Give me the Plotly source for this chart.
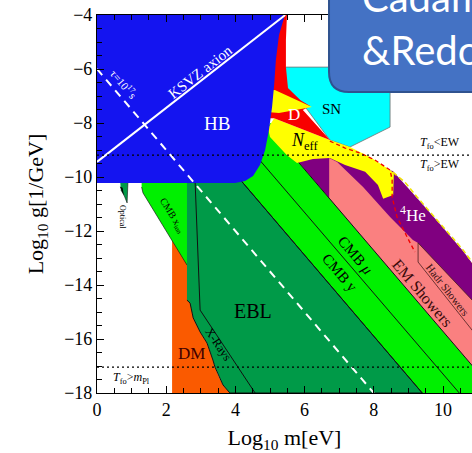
import plotly.graph_objects as go

# ---------------------------------------------------------------- axes
x_range = [0, 10.838]
y_range = [-18, -4]
x_tickvals = [0, 2, 4, 6, 8, 10]
x_ticktext = ["0", "2", "4", "6", "8", "10"]
y_tickvals = [-4, -6, -8, -10, -12, -14, -16, -18]
y_ticktext = ["−4", "−6", "−8", "−10", "−12", "−14", "−16", "−18"]

# ---------------------------------------------------------------- regions
# boundary vertices as (log10 m [eV], log10 g [1/GeV])
hb_m = [0, 5.43, 5.26, 5.17, 5.12, 5.06, 4.97, 4.86, 4.71, 4.51, 4.28, 3.99, 0]
hb_g = [-4, -4, -4.74, -5.67, -6.59, -7.41, -8.26, -9.0, -9.56, -9.96, -10.15, -10.22, -10.22]

red_m = [5.0, 5.49, 5.46, 5.46, 5.52, 5.87, 6.16, 5.95, 6.73, 5.12, 4.86, 4.86]
red_g = [-4, -4, -4.93, -5.93, -6.70, -7.15, -7.37, -7.52, -8.63, -7.82, -7.82, -4]

sn_m = [5.46, 8.47, 8.47, 7.31, 6.73, 5.87, 5.46]
sn_g = [-5.93, -5.93, -8.15, -8.89, -8.63, -7.15, -6.70]

neff_m = [5.12, 6.73, 7.31, 7.89, 8.47, 8.58, 8.56, 8.27, 8.12, 7.75, 7.17, 6.73, 6.24, 5.78, 5.49, 5.0, 4.94]
neff_g = [-7.82, -8.63, -8.89, -9.26, -9.74, -9.85, -10.67, -10.81, -10.30, -9.81, -9.56, -9.30, -9.33, -9.48, -9.19, -8.52, -8.19]

neff_spike_m = [5.0, 5.14, 6.21, 5.26, 5.0]
neff_spike_g = [-6.8, -6.78, -7.41, -7.63, -7.6]

he4_m = [5.80, 6.30, 8.55, 8.76, 9.25, 9.91, 10.58, 10.84, 11.40, 11.40]
he4_g = [-9.42, -9.07, -9.78, -10.07, -10.78, -11.74, -12.74, -13.19, -14.20, -17.82]

em_m = [6.71, 6.94, 7.69, 8.47, 9.13, 9.28, 11.36, 11.36, 6.71]
em_g = [-9.30, -9.44, -10.37, -11.48, -12.33, -12.44, -15.26, -17.76, -10.78]

cmb_m = [4.10, 4.60, 4.90, 5.00, 5.60, 5.80, 11.52, 9.40]
cmb_g = [-10.04, -9.40, -8.30, -8.00, -8.30, -9.42, -18.0, -18.0]

xion_m = [1.29, 2.69, 2.69, 2.60, 1.33, 1.29]
xion_g = [-9.96, -9.96, -13.26, -13.26, -10.59, -10.37]

ebl_m = [2.60, 4.00, 9.40, 3.84, 3.64, 3.50, 3.41, 3.35, 3.18, 2.98, 2.78, 2.69, 2.60]
ebl_g = [-9.90, -9.89, -18.0, -18.0, -17.70, -17.33, -17.04, -16.78, -16.15, -15.74, -15.22, -14.67, -14.56]

dm_m = [2.17, 2.70, 2.70, 2.78, 2.98, 3.18, 3.35, 3.41, 3.50, 3.64, 3.84, 2.17]
dm_g = [-12.0, -12.0, -14.60, -15.22, -15.74, -16.15, -16.78, -17.04, -17.33, -17.70, -18.0, -18.0]

optical_m = [0.66, 0.90, 0.87, 0.78, 0.69]
optical_g = [-10.0, -10.0, -10.96, -10.67, -10.48]
optical_tip_m = [0.66, 0.78, 0.74]
optical_tip_g = [-10.35, -10.70, -10.40]

# ---------------------------------------------------------------- boundary lines
line_a_m, line_a_g = [4.10, 9.40], [-10.04, -18.0]
line_b_m, line_b_g = [4.70, 10.47], [-9.37, -18.0]
line_c_m, line_c_g = [5.80, 11.52], [-9.42, -18.0]
xray_m, xray_g = [2.83, 2.98, 4.57], [-10.0, -14.93, -18.0]
hadr_top_m, hadr_top_g = [9.28, 11.36], [-12.44, -15.26]
hadr_sep_m, hadr_sep_g = [9.28, 9.28, 11.36], [-12.44, -13.15, -16.51]
red_dash_m = [6.73, 7.17, 7.60, 8.03, 8.47, 8.53, 8.53, 8.67, 9.05, 9.19]
red_dash_g = [-8.67, -8.93, -9.11, -9.37, -9.74, -10.11, -10.74, -11.48, -12.44, -12.78]
yel_dash_m = [8.55, 8.90, 9.25, 9.91, 10.58, 10.84, 11.21]
yel_dash_g = [-9.82, -10.19, -10.74, -11.70, -12.70, -13.15, -13.89]
ksvz_m, ksvz_g = [0, 5.44], [-9.44, -4.0]
tau_m, tau_g = [0, 8.0], [-6.0, -18.0]
t_ew_g = -9.19
t_mpl_g = -17.04

SERIF = "Liberation Serif"

fig = go.Figure()


def region(m, g, color, edge=None, width=1.0):
    fig.add_trace(go.Scatter(
        x=m, y=g, mode="lines", fill="toself", fillcolor=color,
        line=dict(color=edge if edge else color, width=width if edge else 0),
        hoverinfo="skip", showlegend=False))


def curve(m, g, color, width=1.0, dash="solid"):
    fig.add_trace(go.Scatter(
        x=m, y=g, mode="lines", line=dict(color=color, width=width, dash=dash),
        hoverinfo="skip", showlegend=False))


region(dm_m, dm_g, "#FA5A00")
region(cmb_m, cmb_g, "#00F000")
region(xion_m, xion_g, "#00F000", "#1a1a1a", 0.7)
region(ebl_m, ebl_g, "#009A48", "#111111", 1.0)
curve(xray_m, xray_g, "#111111", 1.0)
curve(line_a_m, line_a_g, "#111111", 1.0)
curve(line_b_m, line_b_g, "#111111", 1.0)
region(he4_m, he4_g, "#800080")
region(em_m, em_g, "#FA8080")
curve(line_c_m, line_c_g, "#111111", 1.0)
curve(hadr_top_m, hadr_top_g, "#4a2020", 0.8)
curve(hadr_sep_m, hadr_sep_g, "#4a2020", 0.8)
region(sn_m, sn_g, "#00FFFF", "#707070", 0.8)
region(neff_m, neff_g, "#FFFF00")
region(red_m, red_g, "#F80000")
region(neff_spike_m, neff_spike_g, "#FFFF00")
curve(red_dash_m, red_dash_g, "#F00000", 1.3, "4px,3px")
curve(yel_dash_m, yel_dash_g, "#F0E000", 1.5, "5px,3px")
region(optical_m, optical_g, "#009A48", "#111111", 0.6)
region(optical_tip_m, optical_tip_g, "#000000")
region(hb_m, hb_g, "#1414F0")
curve(ksvz_m, ksvz_g, "white", 2.0)
curve(tau_m, tau_g, "white", 2.0, "8px,6px")
curve([x_range[0], x_range[1]], [t_ew_g, t_ew_g], "black", 1.2, "2px,3px")
curve([x_range[0], x_range[1]], [t_mpl_g, t_mpl_g], "black", 1.2, "2px,3px")

# ---------------------------------------------------------------- labels
labels = [
    ("KSVZ axion", 2.98, -6.11, 15, "white", -38),
    ("τ=10<sup>17</sup>s", 0.78, -6.56, 11, "white", 49.5),
    ("HB", 3.47, -8.0, 19, "white", 0),
    ("SN", 6.79, -7.48, 15, "black", 0),
    ("D", 5.69, -7.70, 17, "white", 0),
    ("<i>N</i><sub>eff</sub>", 6.01, -8.70, 18, "black", 0),
    ("<sup>4</sup>He", 9.13, -11.37, 17, "white", 0),
    ("Hadr Showers", 10.14, -14.19, 11, "#3a1010", 52),
    ("EM Showers", 9.42, -14.30, 16, "#3a0a0a", 49.5),
    ("CMB <i>μ</i>", 7.46, -12.89, 15, "black", 49.5),
    ("CMB y", 7.02, -13.56, 15, "black", 49.5),
    ("EBL", 4.51, -14.96, 20, "black", 0),
    ("DM", 2.72, -16.52, 17, "#400000", 0),
    ("X-Rays", 3.50, -16.19, 12, "black", 56),
    ("CMB x<sub>ion</sub>", 2.17, -11.41, 10, "black", 58),
    ("Optical", 0.72, -11.48, 8, "black", 90),
    ("<i>T</i><sub>fo</sub>&gt;<i>m</i><sub>Pl</sub>", 1.01, -17.44, 12, "black", 0),
]
for text, m, g, size, color, angle in labels:
    fig.add_annotation(x=m, y=g, xref="x", yref="y", text=text, showarrow=False,
                       textangle=angle, font=dict(family=SERIF, size=size, color=color))

fig.add_annotation(x=10.55, y=-8.74, xref="x", yref="y", xanchor="right",
                   text="<i>T</i><sub>fo</sub>&lt;EW", showarrow=False,
                   font=dict(family=SERIF, size=12, color="black"))
fig.add_annotation(x=10.55, y=-9.56, xref="x", yref="y", xanchor="right",
                   text="<i>T</i><sub>fo</sub>&gt;EW", showarrow=False,
                   font=dict(family=SERIF, size=12, color="black"))

# ---------------------------------------------------------------- author tag
bx0, by0 = 0.6187, 0.7963
rx, ry = 0.0533, 0.0529
fig.add_shape(type="path", xref="paper", yref="paper", layer="above",
              path=(f"M {bx0},1.15 L {bx0},{by0 + ry} Q {bx0},{by0} {bx0 + rx},{by0} "
                    f"L 1.15,{by0} L 1.15,1.15 Z"),
              fillcolor="#4472C4", line=dict(color="#2F528F", width=2))
fig.add_annotation(x=0.7013, y=0.978, xref="paper", yref="paper", xanchor="left",
                   yanchor="bottom", text="Cadamuro", showarrow=False,
                   font=dict(family="Lato", size=40, color="white"))
fig.add_annotation(x=0.7013, y=0.839, xref="paper", yref="paper", xanchor="left",
                   yanchor="bottom", text="&amp;Redondo", showarrow=False,
                   font=dict(family="Lato", size=40, color="white"))

axis_common = dict(showgrid=False, zeroline=False, ticks="inside", ticklen=7,
                   tickcolor="black", showline=True, linecolor="black", linewidth=1.2,
                   tickfont=dict(family=SERIF, size=18, color="black"))

fig.update_layout(
    width=472, height=453,
    margin=dict(l=97, r=0, t=15, b=60),
    paper_bgcolor="white", plot_bgcolor="white",
    xaxis=dict(range=x_range, tickvals=x_tickvals, ticktext=x_ticktext, mirror="ticks",
               minor=dict(dtick=0.5, ticks="inside", ticklen=5, tickcolor="black"),
               title=dict(text="Log<sub>10</sub> m[eV]", standoff=12,
                          font=dict(family=SERIF, size=22, color="black")),
               **axis_common),
    yaxis=dict(range=y_range, tickvals=y_tickvals, ticktext=y_ticktext,
               minor=dict(dtick=0.5, ticks="inside", ticklen=5, tickcolor="black"),
               title=dict(text="Log<sub>10</sub> g[1/GeV]", standoff=14,
                          font=dict(family=SERIF, size=22, color="black")),
               **axis_common),
    yaxis2=dict(range=y_range, overlaying="y", side="right", anchor="x",
                showgrid=False, zeroline=False, showline=False, showticklabels=False,
                ticks="inside", ticklen=7, tickcolor="black", tickvals=y_tickvals,
                minor=dict(dtick=0.5, ticks="inside", ticklen=5, tickcolor="black")),
)

fig.write_html("out.html")
